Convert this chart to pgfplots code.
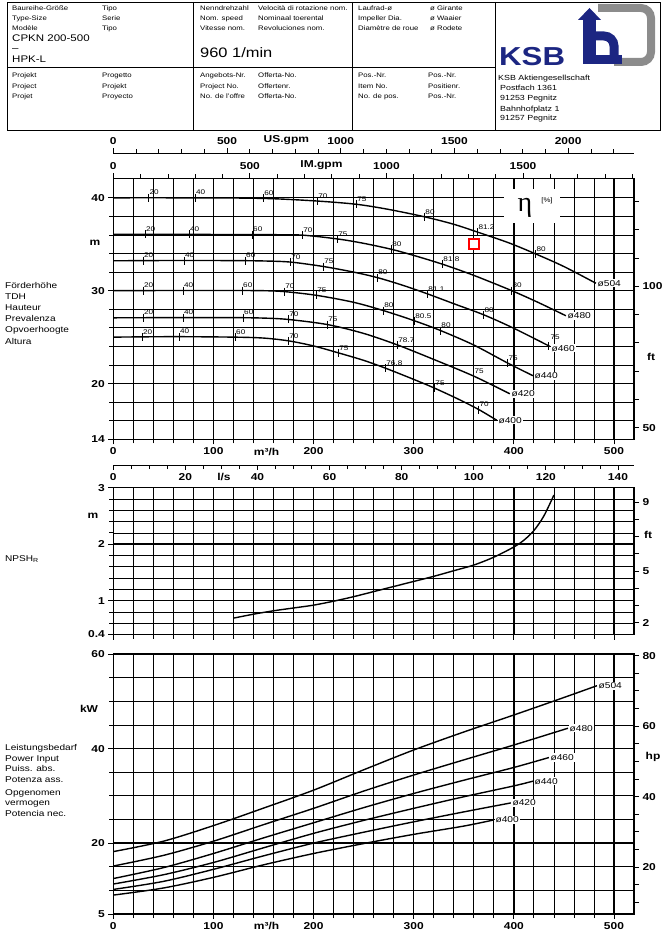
\documentclass[border=0pt]{standalone}
\usepackage{fontspec}
\setmainfont{Liberation Sans}[FakeStretch=1.2]
\newfontfamily\plainsans{Liberation Sans}
\newfontfamily\seriffont{Liberation Serif}
\usepackage{pgfplots}
\pgfplotsset{compat=1.18}
\definecolor{ksbblue}{RGB}{28,38,130}
\definecolor{ksbgrey}{RGB}{140,140,140}
\newcommand\tlf{\bfseries\fontsize{10}{10}\selectfont}
\newcommand\hdr{\fontsize{6.5}{8}\selectfont}
\newcommand\lbl{\fontsize{8.4}{10}\selectfont}
\newcommand\eff{\fontsize{6.8}{7}\selectfont}
\newcommand\dia{\fontsize{8.5}{9}\selectfont}
\newcommand\hx[3]{\node[anchor=base west,inner sep=0,font=\hdr] at (#1pt,-#2pt) {#3};}
\newcommand\lx[3]{\node[anchor=base west,inner sep=0,font=\lbl] at (#1pt,-#2pt) {#3};}
\newcommand\ux[3]{\node[inner sep=0,font=\tlf] at (#1pt,-#2pt) {#3};}
\tikzset{dlab/.style={font=\dia, fill=white, inner sep=1pt, anchor=west, pos=1}}
\pgfplotsset{
  base/.style={scale only axis, width=520.7pt,
    axis line style={line width=1.4pt},
    tick align=outside, major tick length=5pt, minor tick length=4pt,
    tick style={black, line width=0.8pt},
    tick label style={font=\tlf},
    /pgf/number format/assume math mode=true,
    /pgf/number format/1000 sep={},
    scaled ticks=false},
  panel/.style={base, xmin=0, xmax=520, grid=both,
    major grid style={black, line width=1.35pt},
    minor grid style={black, line width=0.75pt},
    xtick={0,100,200,300,400,500},
    minor xtick={20,40,60,80,120,140,160,180,220,240,260,280,320,340,360,380,420,440,460,480},
    tick pos=left, clip=false,
    extra x tick style={grid=none, tick style={draw=none}}},
  ftax/.style={base, xmin=0, xmax=1, hide x axis, axis y line*=right},
  auxx/.style={base, height=1pt, ymin=0, ymax=1, hide y axis, axis line style={line width=0.9pt},
    extra x tick style={tick style={draw=none}}},
  crv/.style={black, line width=1.4pt, smooth, tension=0.5},
  effm/.style={only marks, mark=|, mark size=4pt, mark options={line width=0.9pt},
    nodes near coords, point meta=explicit symbolic,
    every node near coord/.style={anchor=south west, font=\eff, inner sep=0.3pt, yshift=2pt, black}},
}
\begin{document}
\begin{tikzpicture}[x=1pt,y=1pt]
\useasboundingbox (0,0) rectangle (666,-933);
% ---------------- header ----------------
\draw[line width=0.9pt] (7,-2) rectangle (660,-130);
\draw[line width=0.9pt] (193,-2)--(193,-130) (352,-2)--(352,-130) (495,-2)--(495,-130) (7,-67)--(495,-67);
\hx{12}{10.5}{Baureihe-Größe}\hx{12}{20.5}{Type-Size}\hx{12}{30.5}{Modèle}
\hx{102}{10.5}{Tipo}\hx{102}{20.5}{Serie}\hx{102}{30.5}{Tipo}
\hx{200}{10.5}{Nenndrehzahl}\hx{200}{20.5}{Nom. speed}\hx{200}{30.5}{Vitesse nom.}
\hx{258}{10.5}{Velocità di rotazione nom.}\hx{258}{20.5}{Nominaal toerental}\hx{258}{30.5}{Revoluciones nom.}
\hx{358}{10.5}{Laufrad-ø}\hx{358}{20.5}{Impeller Dia.}\hx{358}{30.5}{Diamètre de roue}
\hx{430}{10.5}{ø Girante}\hx{430}{20.5}{ø Waaier}\hx{430}{30.5}{ø Rodete}
\node[anchor=base west,inner sep=0,font=\fontsize{9.6}{10}\selectfont] at (12pt,-41.5pt) {CPKN 200-500};
\node[anchor=base west,inner sep=0,font=\fontsize{9.6}{10}\selectfont] at (12pt,-52pt) {–};
\node[anchor=base west,inner sep=0,font=\fontsize{9.6}{10}\selectfont] at (12pt,-63pt) {HPK-L};
\node[anchor=base west,inner sep=0,font=\fontsize{13.7}{14}\selectfont] at (200pt,-58pt) {960 1/min};
\hx{12}{78}{Projekt}\hx{12}{88.5}{Project}\hx{12}{99}{Projet}
\hx{102}{78}{Progetto}\hx{102}{88.5}{Projekt}\hx{102}{99}{Proyecto}
\hx{200}{78}{Angebots-Nr.}\hx{200}{88.5}{Project No.}\hx{200}{99}{No. de l'offre}
\hx{258}{78}{Offerta-No.}\hx{258}{88.5}{Offertenr.}\hx{258}{99}{Offerta-No.}
\hx{358}{78}{Pos.-Nr.}\hx{358}{88.5}{Item No.}\hx{358}{99}{No. de pos.}
\hx{428}{78}{Pos.-Nr.}\hx{428}{88.5}{Positienr.}\hx{428}{99}{Pos.-Nr.}
\node[anchor=base west,inner sep=0,font=\fontsize{7.4}{8}\selectfont] at (498pt,-80.5pt) {KSB Aktiengesellschaft};
\node[anchor=base west,inner sep=0,font=\fontsize{7.4}{8}\selectfont] at (500pt,-90.5pt) {Postfach 1361};
\node[anchor=base west,inner sep=0,font=\fontsize{7.4}{8}\selectfont] at (500pt,-100.5pt) {91253 Pegnitz};
\node[anchor=base west,inner sep=0,font=\fontsize{7.4}{8}\selectfont] at (500pt,-111.5pt) {Bahnhofplatz 1};
\node[anchor=base west,inner sep=0,font=\fontsize{7.4}{8}\selectfont] at (500pt,-120.5pt) {91257 Pegnitz};
\node[anchor=base west,inner sep=0,text=ksbblue,font=\bfseries\fontsize{26}{26}\selectfont] at (499pt,-66pt) {KSB};
\draw[ksbgrey, line width=8pt, rounded corners=10pt] (598,-8) -- (651,-8) -- (651,-62) -- (614,-62);
\fill[ksbblue] (583,-64) rectangle (596,-18);
\fill[ksbblue] (578,-20) -- (589.5,-8) -- (601,-20) -- cycle;
\draw[ksbblue, line width=9pt] (596,-36) -- (604,-36) arc[start angle=90, end angle=0, radius=10pt] -- (614,-59.5);
\fill[ksbblue] (583,-64) rectangle (622,-55);
% ---------------- side labels ----------------
\lx{5}{288}{Förderhöhe}\lx{5}{299.2}{TDH}\lx{5}{310.4}{Hauteur}\lx{5}{321.6}{Prevalenza}\lx{5}{332.8}{Opvoerhoogte}\lx{5}{344}{Altura}
\lx{5}{561}{NPSH\textsubscript{R}}
\lx{5}{750}{Leistungsbedarf}\lx{5}{761}{Power Input}\lx{5}{771.5}{Puiss. abs.}\lx{5}{782}{Potenza ass.}\lx{5}{795}{Opgenomen}\lx{5}{805}{vermogen}\lx{5}{816.5}{Potencia nec.}
\ux{95}{243}{m}\ux{93}{516}{m}\ux{89}{709}{kW}
\ux{651}{357}{ft}\ux{648}{535}{ft}\ux{653}{757}{hp}
% ---------------- top auxiliary scales ----------------
\begin{axis}[auxx, at={(113.3pt,-153.3pt)}, anchor=north west, axis x line*=top, xticklabel pos=right,
  xmin=0, xmax=2289.5, xtick={0,500,1000,1500,2000},
  minor xtick={100,200,300,400,600,700,800,900,1100,1200,1300,1400,1600,1700,1800,1900,2100,2200},
  extra x ticks={761}, extra x tick labels={US.gpm}]
\addplot[draw=none] coordinates {(0,0)};
\end{axis}
% ---------------- panel 1 : head ----------------
\begin{axis}[panel, at={(113.3pt,-439.3pt)}, anchor=south west, height=261pt,
  ymin=14, ymax=42.1, ytick={14,20,30,40}, minor ytick={16,18,22,24,26,28,32,34,36,38},
  extra x ticks={153}, extra x tick labels={m³/h}]
\addplot[crv] coordinates {(0,40) (60,40) (120,39.98) (160,39.9) (204,39.65) (243,39.3) (275,38.75) (311,37.95) (340,37.15) (364,36.3) (395,35.15) (422,33.95) (450,32.6) (482,30.8)} node[dlab] {ø504};
\addplot[crv] coordinates {(0,36.06) (60,36.06) (120,36.05) (160,36.03) (189,35.98) (224,35.57) (250,35.1) (278,34.45) (300,33.8) (329,32.84) (360,31.65) (398,30.0) (425,28.7) (452,27.3)} node[dlab] {ø480};
\addplot[crv] coordinates {(0,33.22) (60,33.25) (120,33.24) (150,33.2) (177,33.08) (210,32.6) (240,32.0) (264,31.4) (290,30.55) (314,29.65) (340,28.6) (370,27.4) (400,25.95) (436,24.0)} node[dlab, yshift=-2pt] {ø460};
\addplot[crv] coordinates {(0,30.0) (60,30.02) (120,30.02) (150,30.0) (171,29.9) (203,29.5) (240,28.75) (270,27.85) (301,26.75) (327,25.7) (360,24.15) (394,22.2) (419,20.85)} node[dlab] {ø440};
\addplot[crv] coordinates {(0,27.08) (60,27.1) (120,27.1) (150,27.05) (175,26.9) (214,26.35) (250,25.4) (284,24.15) (320,22.6) (360,20.8) (396,18.9)} node[dlab] {ø420};
\addplot[crv] coordinates {(0,25.0) (60,25.05) (120,25.0) (150,24.9) (175,24.6) (200,24.05) (225,23.3) (250,22.5) (272,21.65) (300,20.45) (321,19.5) (345,18.3) (365,17.2) (383,16.05)} node[dlab] {ø400};
\addplot[effm] table[meta=l] {
x y l
35.5 40.0 20
82 40.0 40
150 39.93 60
204 39.65 70
243 39.3 75
311 37.95 80
364 36.3 81.2
422 33.95 80
32 36.06 20
76 36.06 40
139 36.04 60
189 35.98 70
224 35.57 75
278 34.45 80
329 32.84 81.8
398 30.0 80
30 33.23 20
71 33.25 40
132 33.23 60
177 33.08 70
210 32.6 75
264 31.4 80
314 29.65 81.1
370 27.4 80
30 30.01 20
70 30.02 40
129 30.02 60
171 29.9 70
203 29.5 75
270 27.85 80
301 26.75 80.5
327 25.7 80
394 22.2 75
30 27.09 20
70 27.1 40
130 27.1 60
175 26.9 70
214 26.35 75
284 24.15 78.7
360 20.8 75
29 25.02 20
66 25.05 40
122 25.0 60
175 24.6 70
225 23.3 75
272 21.65 76.8
321 19.5 75
365 17.2 70
};
\addplot[effm, every node near coord/.append style={yshift=3.5pt, xshift=1pt}] table[meta=l] {
x y l
435 24.05 75
};
\addplot[only marks, mark=square*, mark size=5pt, mark options={draw=red, fill=white, line width=1.8pt}] coordinates {(360,35.0)};
\end{axis}
\begin{axis}[ftax, at={(113.3pt,-439.3pt)}, anchor=south west, height=261pt,
  ymin=45.932, ymax=138.12, ytick={50,60,...,130}, yticklabels={50,,,,,100,,,}]
\addplot[draw=none] coordinates {(0,50)};
\end{axis}
\begin{axis}[auxx, at={(113.3pt,-178.3pt)}, anchor=north west, axis x line*=top, xticklabel pos=right,
  xmin=0, xmax=1906.4, xtick={0,500,1000,1500},
  minor xtick={100,200,300,400,600,700,800,900,1100,1200,1300,1400,1600,1700,1800,1900},
  extra x ticks={762}, extra x tick labels={IM.gpm}]
\addplot[draw=none] coordinates {(0,0)};
\end{axis}
\fill[white] (504,-189) rectangle (560,-223);
\node[inner sep=0, font=\seriffont\fontsize{28}{28}\selectfont] at (525pt,-208pt) {η};
\node[inner sep=0, font=\hdr] at (547pt,-201pt) {[\%]};
% ---------------- l/s scale ----------------
\begin{axis}[auxx, at={(113.3pt,-465pt)}, anchor=south west, axis x line*=bottom,
  xmin=0, xmax=144.444, xtick={0,20,...,140},
  minor xtick={5,10,15,25,30,35,45,50,55,65,70,75,85,90,95,105,110,115,125,130,135},
  extra x ticks={30.7}, extra x tick labels={l/s}]
\addplot[draw=none] coordinates {(0,0)};
\end{axis}
% ---------------- panel 2 : NPSH ----------------
\begin{axis}[panel, at={(113.3pt,-634.5pt)}, anchor=south west, height=146.8pt,
  ymin=0.4, ymax=3, ytick={0.4,1,2,3}, minor ytick={0.6,0.8,1.2,1.4,1.6,1.8,2.2,2.4,2.6,2.8},
  xticklabels={}]
\addplot[crv] coordinates {(120,0.69) (140,0.76) (160,0.82) (180,0.87) (200,0.92) (220,0.99) (240,1.07) (260,1.16) (280,1.25) (300,1.34) (320,1.43) (340,1.53) (360,1.63) (380,1.77) (400,1.95) (410,2.07) (420,2.24) (430,2.50) (440,2.87)};
\end{axis}
\begin{axis}[ftax, at={(113.3pt,-634.5pt)}, anchor=south west, height=146.8pt,
  ymin=1.3123, ymax=9.8425, ytick={2,3,...,9}, yticklabels={2,,,5,,,,9}]
\addplot[draw=none] coordinates {(0,2)};
\end{axis}
% ---------------- panel 3 : power ----------------
\begin{axis}[panel, at={(113.3pt,-914pt)}, anchor=south west, height=260pt,
  ymin=5, ymax=60, ytick={5,20,40,60}, minor ytick={10,15,25,30,35,45,50,55},
  extra x ticks={153}, extra x tick labels={m³/h}]
\addplot[crv] coordinates {(0,18.2) (50,20.4) (100,23.7) (150,27.4) (200,31.2) (250,35.5) (300,39.7) (350,43.5) (400,47.1) (450,50.8) (483,53.3)} node[dlab] {ø504};
\addplot[crv] coordinates {(0,15.15) (50,17.4) (100,20.4) (150,23.9) (200,27.35) (250,31.0) (300,34.4) (350,37.6) (400,40.75) (454,44.3)} node[dlab] {ø480};
\addplot[crv] coordinates {(0,12.5) (50,14.8) (100,17.8) (150,21.1) (200,24.3) (250,27.5) (300,30.5) (350,33.3) (400,36.0) (435,38.1)} node[dlab] {ø460};
\addplot[crv] coordinates {(0,11.34) (50,13.3) (100,15.9) (150,19.0) (200,22.06) (250,24.8) (300,27.35) (350,29.8) (400,32.1) (419,33.1)} node[dlab] {ø440};
\addplot[crv] coordinates {(0,10.2) (50,11.9) (100,14.45) (150,17.3) (200,20.0) (250,22.3) (300,24.5) (350,26.6) (397,28.5)} node[dlab] {ø420};
\addplot[crv] coordinates {(0,9.0) (50,10.5) (100,12.75) (150,15.4) (200,17.8) (250,19.9) (300,21.85) (350,23.6) (380,24.9)} node[dlab] {ø400};
\end{axis}
\begin{axis}[ftax, at={(113.3pt,-914pt)}, anchor=south west, height=260pt,
  ymin=6.7051, ymax=80.461, ytick={10,15,...,80}, yticklabels={,,20,,,,40,,,,60,,,,80}]
\addplot[draw=none] coordinates {(0,20)};
\end{axis}
\end{tikzpicture}
\end{document}
